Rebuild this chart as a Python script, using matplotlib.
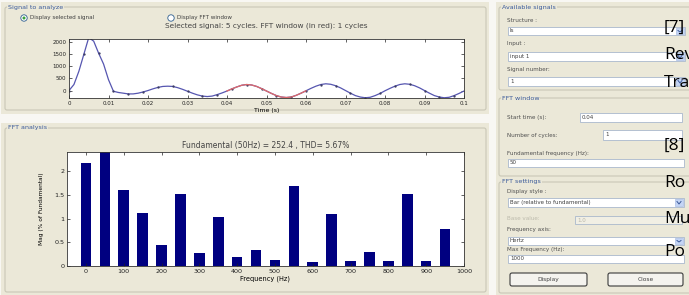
import numpy as np
import matplotlib.pyplot as plt
from matplotlib.patches import Rectangle, Circle, FancyBboxPatch

# --- data ---
# selected signal, sampled every 1.25 ms from 0 to 0.1 s
SAMPLE_STEP = 0.00125
signal_values = [
    0, 250, 800, 1500, 2200, 2050, 1550, 1100, 450, -30,
    -80, -110, -140, -140, -110, -60, 0, 70, 130, 170,
    180, 170, 120, 50, -30, -110, -180, -230, -250, -230,
    -170, -100, -20, 70, 150, 220, 250, 230, 170, 80,
    -20, -120, -210, -270, -290, -270, -200, -110, -10, 90,
    180, 250, 280, 260, 200, 110, 0, -110, -210, -270,
    -300, -280, -210, -120, -10, 90, 180, 250, 280, 260,
    200, 110, 0, -110, -210, -270, -300, -280, -210, -120,
    -20,
]
fft_window = (0.04, 0.06)
time_ticks = [0, 0.01, 0.02, 0.03, 0.04, 0.05, 0.06, 0.07, 0.08, 0.09, 0.1]
time_labels = ["0", "0.01", "0.02", "0.03", "0.04", "0.05", "0.06", "0.07", "0.08", "0.09", "0.1"]

harmonic_freqs = [0, 50, 100, 150, 200, 250, 300, 350, 400, 450,
                  500, 550, 600, 650, 700, 750, 800, 850, 900, 950]
harmonic_mag = [2.18, 100, 1.60, 1.11, 0.44, 1.52, 0.27, 1.04, 0.18, 0.33,
                0.13, 1.70, 0.08, 1.09, 0.11, 0.30, 0.10, 1.52, 0.11, 0.79]

top_title = "Selected signal: 5 cycles. FFT window (in red): 1 cycles"
fft_title = "Fundamental (50Hz) = 252.4 , THD= 5.67%"

W, H = 689, 295
PANEL = "#ebe8d8"
GROUP_TXT = "#3a5a9a"
LBL = "#505050"

fig = plt.figure(figsize=(W / 100, H / 100), dpi=100)
fig.patch.set_facecolor("#f8f7f3")

# background axes in pixel coordinates for the dialog chrome
bg = fig.add_axes([0, 0, 1, 1])
bg.set_xlim(0, W)
bg.set_ylim(H, 0)
bg.axis("off")


def panel(x0, y0, x1, y1):
    bg.add_patch(Rectangle((x0, y0), x1 - x0, y1 - y0, fc=PANEL, ec="none"))


def group(x0, y0, x1, y1, title):
    bg.add_patch(FancyBboxPatch((x0, y0), x1 - x0, y1 - y0, boxstyle="round,pad=0,rounding_size=2",
                                fc="none", ec="#c9c7b6", lw=0.8))
    bg.text(x0 + 3, y0, title, fontsize=4.6, color=GROUP_TXT, va="center", ha="left",
            bbox=dict(fc=PANEL, ec="none", pad=0.6))


def label(x, y, s, color=LBL):
    bg.text(x, y, s, fontsize=4.1, color=color, va="center", ha="left")


def textbox(x0, y0, x1, y1, s, arrow=False, enabled=True):
    bg.add_patch(Rectangle((x0, y0), x1 - x0, y1 - y0, fc="white" if enabled else "#f1efe4",
                           ec="#a9b8cc", lw=0.6))
    bg.text(x0 + 2, (y0 + y1) / 2, s, fontsize=4.0, va="center", ha="left",
            color="#404040" if enabled else "#b8b6a8")
    if arrow:
        bg.add_patch(Rectangle((x1 - 9, y0 + 1), 8, y1 - y0 - 2, fc="#c4d5f5", ec="#9db4e0", lw=0.4))
        bg.plot([x1 - 7, x1 - 5, x1 - 3], [y0 + 3.5, y1 - 3, y0 + 3.5], color="#3c5a9a", lw=0.7)


def button(x0, y0, x1, y1, s):
    bg.add_patch(FancyBboxPatch((x0, y0), x1 - x0, y1 - y0, boxstyle="round,pad=0,rounding_size=2",
                                fc="#f4f3ee", ec="#3a3a3a", lw=0.8))
    bg.text((x0 + x1) / 2, (y0 + y1) / 2, s, fontsize=4.2, va="center", ha="center", color="#404040")


def radio(x, y, s, selected):
    bg.add_patch(Circle((x, y), 3.2, fc="white", ec="#2f5f8f", lw=0.6))
    if selected:
        bg.add_patch(Circle((x, y), 1.5, fc="#3aa13a", ec="none"))
    label(x + 6, y, s, color="#404040")


# panels
panel(1, 2, 489, 114)
panel(1, 123, 489, 295)
panel(496, 2, W, 295)

# left side
group(5, 7, 486, 110, "Signal to analyze")
radio(24, 18, "Display selected signal", True)
radio(171, 18, "Display FFT window", False)
group(5, 128, 486, 292, "FFT analysis")

# right side
group(499, 7, W + 5, 90, "Available signals")
label(507, 20, "Structure :")
textbox(508, 27, 685, 35, "Is", arrow=True)
label(507, 44, "Input :")
textbox(508, 52, 685, 61, "input 1", arrow=True)
label(507, 69, "Signal number:")
textbox(508, 77, 685, 86, "1", arrow=True)

group(499, 98, W + 5, 176, "FFT window")
label(507, 117, "Start time (s):")
textbox(580, 113, 682, 122, "0.04")
label(507, 135, "Number of cycles:")
textbox(603, 130, 682, 140, "1")
label(507, 153, "Fundamental frequency (Hz):")
textbox(508, 159, 684, 167, "50")

group(499, 182, W + 5, 293, "FFT settings")
label(507, 191, "Display style :")
textbox(508, 198, 684, 207, "Bar (relative to fundamental)", arrow=True)
label(507, 219, "Base value:", color="#bdbbad")
textbox(575, 216, 682, 224, "1.0", enabled=False)
label(507, 230, "Frequency axis:")
textbox(508, 237, 684, 245, "Hertz", arrow=True)
label(507, 249, "Max Frequency (Hz):")
textbox(508, 255, 684, 263, "1000")
button(510, 273, 587, 286, "Display")
button(608, 273, 683, 286, "Close")


def ax_rect(x0, y0, x1, y1):
    return [x0 / W, 1 - y1 / H, (x1 - x0) / W, (y1 - y0) / H]


def matlab_axes(ax, labelsize):
    ax.set_facecolor("white")
    ax.tick_params(direction="in", top=True, right=True, length=2, width=0.5,
                   labelsize=labelsize, pad=2, colors="#222222")
    for sp in ax.spines.values():
        sp.set_linewidth(0.6)
        sp.set_color("#333333")


# --- selected signal ---
t = np.arange(len(signal_values)) * SAMPLE_STEP
y = np.array(signal_values)
ax1 = fig.add_axes(ax_rect(69, 39, 464, 98))
ax1.plot(t, y, color="#5656b0", lw=0.9, marker=".", ms=1.3, mfc="#3a3a60", mec="#3a3a60", markevery=3)
win = (t >= fft_window[0] - 1e-9) & (t <= fft_window[1] + 1e-9)
ax1.plot(t[win], y[win], color="#e06a6a", lw=0.9)
ax1.set_xlim(0, 0.1)
ax1.set_ylim(-310, 2140)
ax1.set_xticks(time_ticks)
ax1.set_xticklabels(time_labels)
ax1.set_yticks([0, 500, 1000, 1500, 2000])
matlab_axes(ax1, 4.0)
ax1.set_title(top_title, fontsize=5.3, color="#444444", pad=8)
ax1.set_xlabel("Time (s)", fontsize=4.5, labelpad=1.5)

# --- FFT analysis ---
ax2 = fig.add_axes(ax_rect(67, 152, 464, 266))
ax2.bar(harmonic_freqs, harmonic_mag, width=28, color="#000080")
ax2.set_xlim(-50, 1000)
ax2.set_ylim(0, 2.41)
ax2.set_xticks(range(0, 1001, 100))
ax2.set_yticks([0, 0.5, 1, 1.5, 2])
ax2.set_yticklabels(["0", "0.5", "1", "1.5", "2"])
matlab_axes(ax2, 4.6)
ax2.set_title(fft_title, fontsize=5.5, color="#444444", pad=3)
ax2.set_xlabel("Frequency (Hz)", fontsize=4.8, labelpad=1)
ax2.set_ylabel("Mag (% of Fundamental)", fontsize=4.2, labelpad=7)

# text of the document behind the dialog (baselines)
doc_text = [("[7]", 32), ("Rev", 59), ("Tra", 87), ("[8]", 150), ("Ro", 187), ("Mu", 223), ("Po", 256)]
for s, yy in doc_text:
    fig.text(664 / W, 1 - yy / H, s, fontsize=12.5, family="Open Sans", color="black",
             va="baseline", ha="left")

fig.savefig("out.png", dpi=100, facecolor=fig.get_facecolor())
